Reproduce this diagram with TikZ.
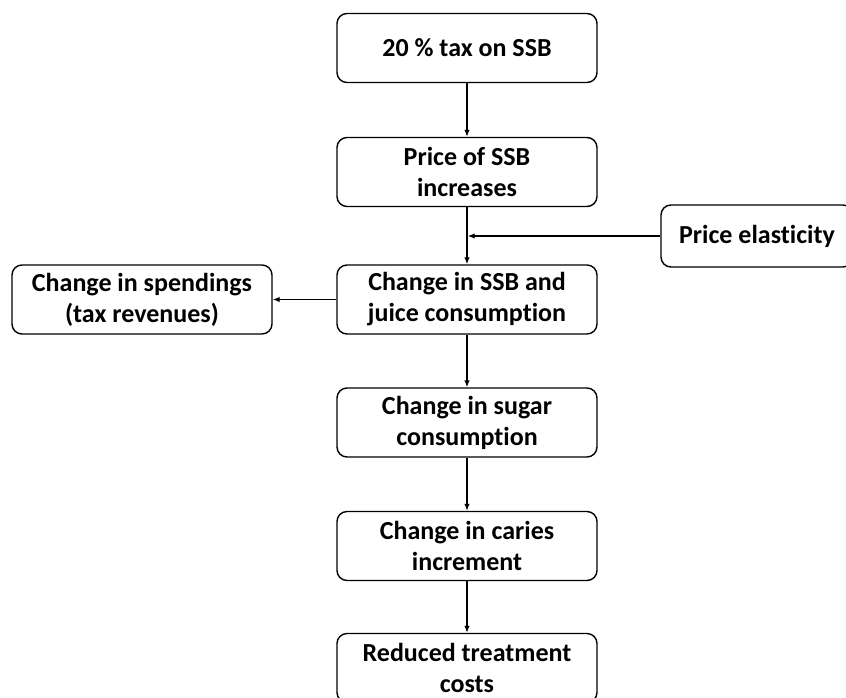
\documentclass[tikz,border=0pt]{standalone}
\usepackage{fontspec}
\setmainfont[Ligatures=NoCommon]{Carlito}
\usetikzlibrary{arrows.meta}

\tikzset{
    stage/.style={draw, rounded corners=10pt, line width=1.4pt, minimum width=260pt, minimum height=69pt,
        align=center, inner sep=2pt, font=\fontsize{26}{31}\selectfont\bfseries},
    link/.style={line width=1.3pt, -{Latex[length=7pt,width=5.5pt]}}
}

\begin{document}
\begin{tikzpicture}[x=1pt, y=-1pt]
    % Frame of the picture (boxes at the edges are cut off)
    \useasboundingbox (0,0) rectangle (846,697);
    \clip (0,0) rectangle (846,697);

    % Main chain of boxes
    \node[stage] (Tax) at (467,48) {20 \% tax on SSB};
    \node[stage] (Price) at (467,172) {Price of SSB\\increases};
    \node[stage] (Juice) at (467,299.5) {Change in SSB and\\juice consumption};
    \node[stage] (Sugar) at (467,422.5) {Change in sugar\\consumption};
    \node[stage] (Caries) at (467,546) {Change in caries\\increment};
    \node[stage] (Costs) at (467,668) {Reduced treatment\\costs};

    % Side boxes
    \node[stage, minimum width=192pt, minimum height=62pt] (Elasticity) at (757,236) {Price elasticity};
    \node[stage] (Spendings) at (142,299.5) {Change in spendings\\(tax revenues)};

    % Connectors
    \draw[link] (Tax) -- (Price);
    \draw[link] (Price) -- (Juice);
    \draw[link] (Juice) -- (Sugar);
    \draw[link] (Sugar) -- (Caries);
    \draw[link] (Caries) -- (Costs);
    \draw[link, shorten >=0.7pt] (Elasticity.west) -- (Elasticity.west -| Price.south);
    \draw[link] (Juice) -- (Spendings);

\end{tikzpicture}
\end{document}
